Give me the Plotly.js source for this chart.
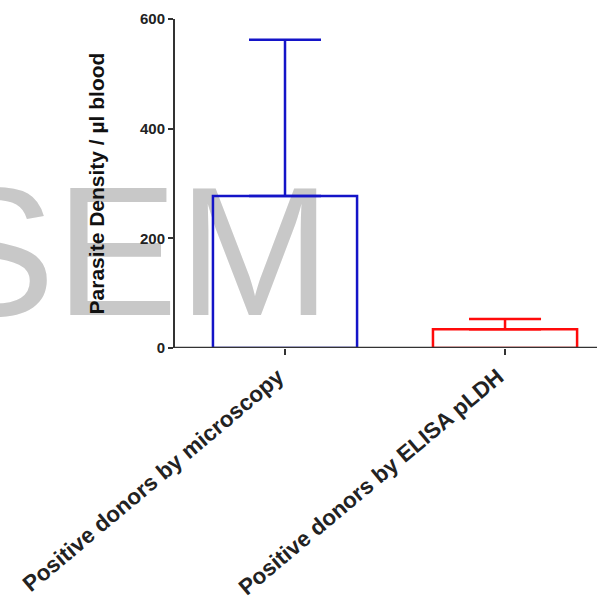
<!DOCTYPE html>
<html>
<head>
<meta charset="utf-8">
<script src="https://cdn.plot.ly/plotly-3.0.1.min.js"></script>
<style>html,body{margin:0;padding:0;background:#fff;}#chart{width:598px;height:603px;}</style>
</head>
<body>
<div id="chart"></div>
<script>
const categories = ["Positive donors by microscopy", "Positive donors by ELISA pLDH"];
const meanValues = [277, 34];
const semValues = [285, 19];
const barColors = ["#1414c8", "#ff0a0a"];
const yTickValues = [0, 200, 400, 600];
const yTitle = "Parasite Density / µl blood";
const watermark = "SEM";

const traces = categories.map((c, i) => ({
  type: "bar",
  x: [c],
  y: [meanValues[i]],
  width: 0.655,
  marker: {color: "rgba(0,0,0,0)", line: {color: barColors[i], width: 2.5}},
  error_y: {type: "data", symmetric: false, array: [semValues[i]], arrayminus: [0],
            color: barColors[i], thickness: 2.5, width: 36},
  showlegend: false,
  hoverinfo: "skip"
}));

const font = {family: "Liberation Sans, Arial, sans-serif", color: "#222", weight: "bold"};

const layout = {
  width: 598, height: 603,
  margin: {l: 175, r: 1, t: 19, b: 255},
  paper_bgcolor: "#fff", plot_bgcolor: "rgba(0,0,0,0)",
  showlegend: false,
  bargap: 0,
  xaxis: {
    type: "category", categoryorder: "array", categoryarray: categories,
    range: [-0.5, 1.418],
    showline: false,
    ticks: "outside", ticklen: 6, tickwidth: 2, tickcolor: "#333",
    tickangle: -40,
    ticklabelshift: -7,
    tickfont: Object.assign({}, font, {size: 22.4}),
    showgrid: false, zeroline: false, fixedrange: true
  },
  yaxis: {
    range: [0, 600], tickvals: yTickValues, ticktext: yTickValues.map(String),
    showline: true, linecolor: "#333", linewidth: 2,
    ticks: "outside", ticklen: 5, tickwidth: 2, tickcolor: "#333",
    tickfont: Object.assign({}, font, {size: 15}),
    title: {text: yTitle, font: Object.assign({}, font, {size: 21, color: "#111"}), standoff: 30},
    showgrid: false, zeroline: false, fixedrange: true
  },
  shapes: [
    {
      type: "rect", xref: "paper", yref: "paper",
      x0: -0.3, x1: 0.096, y0: 0.2, y1: 0.49,
      layer: "below",
      line: {width: 0}, fillcolor: "rgba(0,0,0,0)",
      label: {text: watermark, textposition: "middle center",
              font: {family: "Liberation Sans, Arial, sans-serif", size: 184, color: "#c8c8c8"}}
    },
    {
      type: "line", xref: "paper", yref: "y",
      x0: -0.003, x1: 1, y0: 0, y1: 0,
      layer: "above",
      line: {color: "#333", width: 2.6}
    }
  ]
};

Plotly.newPlot("chart", traces, layout, {staticPlot: true, displayModeBar: false});
</script>
</body>
</html>
